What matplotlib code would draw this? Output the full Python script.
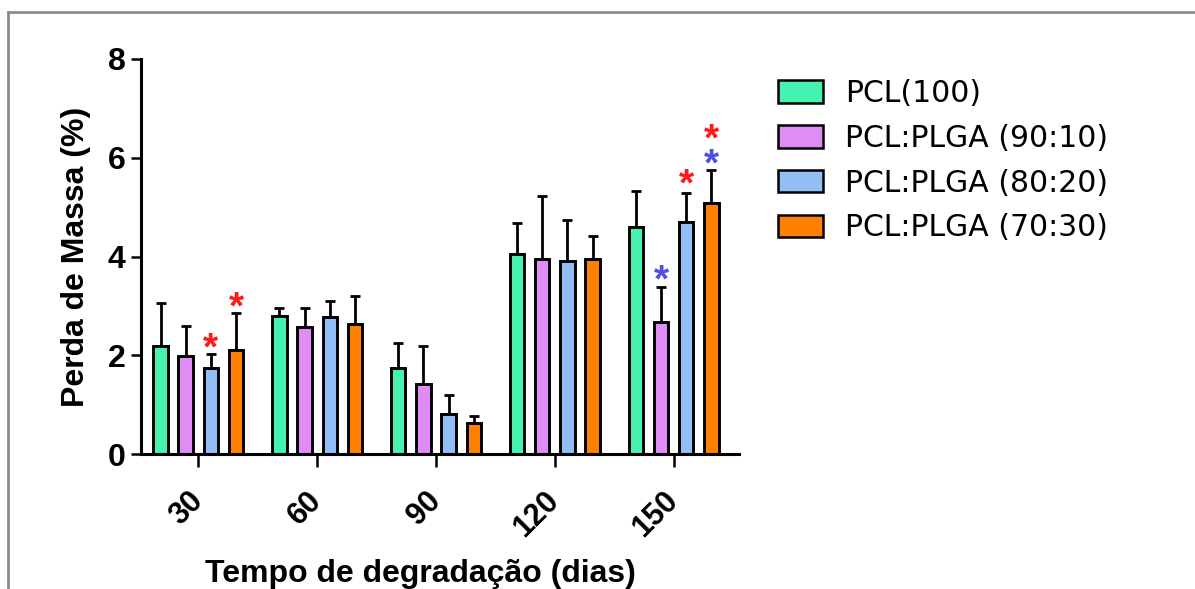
import matplotlib
matplotlib.use('Agg')
import matplotlib.pyplot as plt
import matplotlib.transforms as mtransforms
from matplotlib.lines import Line2D
from matplotlib.patches import Patch
import numpy as np

# dados
days = ['30', '60', '90', '120', '150']
series = ['PCL(100)', 'PCL:PLGA (90:10)', 'PCL:PLGA (80:20)', 'PCL:PLGA (70:30)']
colors = ['#46F2AF', '#DF8CF5', '#91BFF5', '#FF8000']

pcl100 = [2.19, 2.80, 1.74, 4.05, 4.59]
plga90 = [1.98, 2.58, 1.42, 3.95, 2.68]
plga80 = [1.75, 2.77, 0.82, 3.91, 4.71]
plga70 = [2.11, 2.63, 0.63, 3.95, 5.08]

err100 = [0.87, 0.16, 0.52, 0.63, 0.73]
err90 = [0.62, 0.38, 0.77, 1.28, 0.70]
err80 = [0.27, 0.33, 0.39, 0.83, 0.57]
err70 = [0.74, 0.57, 0.15, 0.47, 0.68]

# asteriscos (grupo, serie, altura, cor)
star_day = [0, 0, 4, 4, 4, 4]
star_series = [2, 3, 1, 2, 3, 3]
star_y = [2.36, 3.19, 3.75, 5.69, 6.10, 6.59]
star_color = ['#FF1A1A', '#FF1A1A', '#5050E0', '#FF1A1A', '#5050E0', '#FF1A1A']

values = [pcl100, plga90, plga80, plga70]
errors = [err100, err90, err80, err70]

W, H = 1195, 589
fig = plt.figure(figsize=(W / 100, H / 100), dpi=100)
ax = fig.add_axes([140.7 / W, 1 - 454.3 / H, (739 - 140.7) / W, (454.3 - 59) / H])

x = np.arange(len(days))
pitch = 0.212
width = 0.122
for i in range(4):
    pos = x + (i - 1.5) * pitch
    ax.bar(pos, values[i], width, color=colors[i], edgecolor='black', linewidth=2.1, zorder=2)
    ax.errorbar(pos, values[i], yerr=[np.zeros(len(days)), errors[i]], fmt='none',
                ecolor='black', elinewidth=2.0, capsize=3.8, capthick=2.0, zorder=1)

star_tr = mtransforms.offset_copy(ax.transData, fig=fig, y=-16, units='points')
for d, s, yv, c in zip(star_day, star_series, star_y, star_color):
    ax.text(x[d] + (s - 1.5) * pitch, yv, '*', color=c, fontsize=28, fontweight='bold',
            family='Liberation Sans', ha='center', va='baseline', transform=star_tr)

ax.set_xlim(-0.485, 4.55)
ax.set_ylim(0, 8)
ax.set_yticks([0, 2, 4, 6, 8])
ax.set_yticklabels(['0', '2', '4', '6', '8'], fontsize=23, fontweight='bold', family='Liberation Sans')
ax.set_xticks(x)
ax.set_xticklabels(days, fontsize=22, fontweight='bold', family='Liberation Sans',
                   rotation=45, rotation_mode='anchor', ha='right', va='center')
shift = mtransforms.ScaledTranslation(9 / 100, 0, fig.dpi_scale_trans)
for lab in ax.get_xticklabels():
    lab.set_transform(lab.get_transform() + shift)

for side in ['top', 'right']:
    ax.spines[side].set_visible(False)
for side in ['left', 'bottom']:
    ax.spines[side].set_linewidth(2.2)
ax.tick_params(axis='y', length=7.5, width=1.8, pad=3.5)
ax.tick_params(axis='x', length=9, width=1.8, pad=21)

ax.set_ylabel('Perda de Massa (%)', fontsize=23, fontweight='bold', family='Liberation Sans', labelpad=12)
ax.set_xlabel('Tempo de degradação (dias)', fontsize=23, fontweight='bold', family='Liberation Sans')
ax.xaxis.label.set_va('baseline')
ax.xaxis.set_label_coords((420 - 140.7) / (739 - 140.7), (454.3 - 582) / (454.3 - 59))

handles = [Patch(facecolor=colors[i], edgecolor='black', linewidth=1.8, label=series[i]) for i in range(4)]
fig.legend(handles=handles, loc='upper left', bbox_to_anchor=(778 / W, 1 - 79 / H),
           frameon=False, borderpad=0, borderaxespad=0,
           prop={'family': 'DejaVu Sans', 'size': 21.5},
           handlelength=1.5, handleheight=0.77, handletextpad=0.74, labelspacing=0.53)

# moldura cinza da figura original
fig.add_artist(Line2D([8 / W, 1], [1 - 12 / H] * 2, color='#8c8c8c', lw=2, transform=fig.transFigure))
fig.add_artist(Line2D([8 / W] * 2, [0, 1 - 12 / H], color='#8c8c8c', lw=2, transform=fig.transFigure))

fig.savefig('out.png', dpi=100)
